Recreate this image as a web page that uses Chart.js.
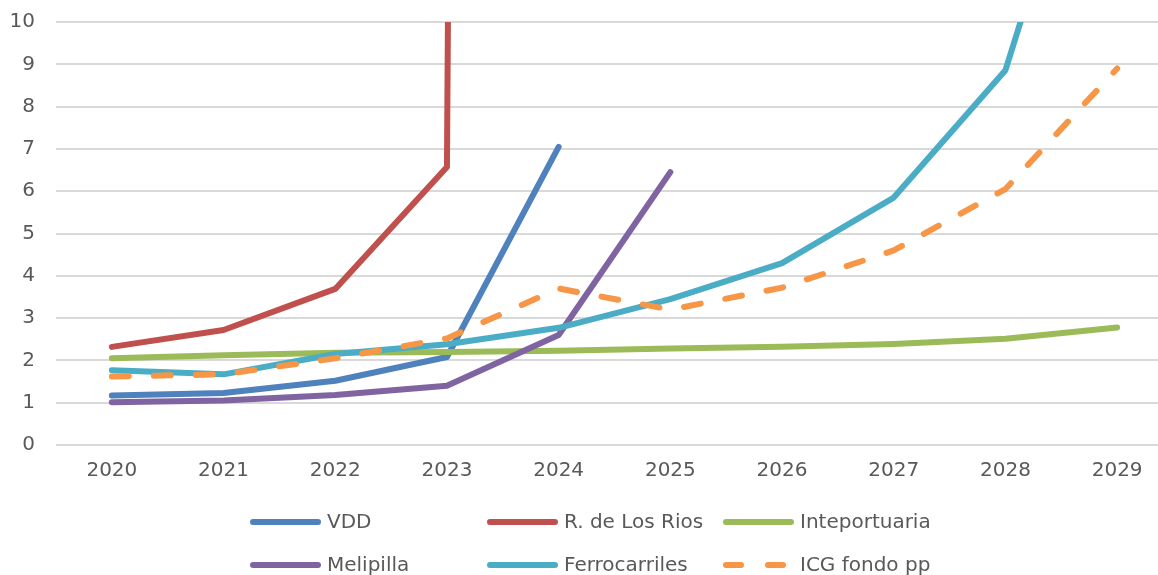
<!DOCTYPE html>
<html lang="es">
<head>
<meta charset="UTF-8">
<title>Indices</title>
<script src="https://cdn.jsdelivr.net/npm/chart.js"></script>
<style>
    html, body {
        margin: 0;
        padding: 0;
        background: #ffffff;
        overflow: hidden;
    }
    .wrap {
        position: relative;
        width: 1173px;
        height: 575px;
    }
</style>
</head>
<body>
<div class="wrap">
    <canvas id="chart"></canvas>
</div>
<script>
    const years = ['2020', '2021', '2022', '2023', '2024', '2025', '2026', '2027', '2028', '2029'];
    const yTicks = [0, 1, 2, 3, 4, 5, 6, 7, 8, 9, 10];

    const vdd = [1.17, 1.23, 1.52, 2.08, 7.05, null, null, null, null, null];
    const losRios = [2.32, 2.72, 3.69, 6.57, 400, null, null, null, null, null];
    const inteportuaria = [2.05, 2.12, 2.18, 2.2, 2.23, 2.28, 2.32, 2.39, 2.51, 2.78];
    const melipilla = [1.01, 1.05, 1.18, 1.4, 2.6, 6.45, null, null, null, null];
    const ferrocarriles = [1.77, 1.67, 2.15, 2.38, 2.77, 3.45, 4.3, 5.85, 8.86, 17.3];
    const icg = [1.62, 1.67, 2.05, 2.52, 3.7, 3.2, 3.72, 4.6, 6.05, 8.9];

    const seriesNames = ['VDD', 'R. de Los Rios', 'Inteportuaria', 'Melipilla', 'Ferrocarriles', 'ICG fondo pp'];
    const seriesData = [vdd, losRios, inteportuaria, melipilla, ferrocarriles, icg];
    const seriesColors = ['#4f81bd', '#c0504d', '#9bbb59', '#8064a2', '#4bacc6', '#f79646'];

    const textColor = '#595959';
    const fontFamily = '"DejaVu Sans", Verdana, sans-serif';

    const datasets = seriesNames.map((name, i) => ({
        label: name,
        data: seriesData[i],
        borderColor: seriesColors[i],
        backgroundColor: seriesColors[i],
        borderWidth: 6,
        borderDash: name === 'ICG fondo pp' ? [17, 25] : [],
        borderCapStyle: 'round',
        borderJoinStyle: 'round',
        pointRadius: 0,
        tension: 0,
        fill: false,
        clip: 0,
        order: seriesNames.length - i
    }));

    // legend drawn as in the original: 3 columns x 2 rows below the axis
    const gridLegend = {
        id: 'gridLegend',
        afterDraw(chart) {
            const ctx = chart.ctx;
            const cols = [250, 487, 723];
            const rows = [522, 565];
            ctx.save();
            ctx.font = '20px ' + fontFamily;
            ctx.textBaseline = 'middle';
            chart.data.datasets.forEach((ds, i) => {
                const x = cols[i % 3];
                const y = rows[Math.floor(i / 3)];
                ctx.strokeStyle = ds.borderColor;
                ctx.lineWidth = 6;
                ctx.lineCap = 'round';
                ctx.setLineDash(ds.borderDash.length ? [15, 27] : []);
                ctx.beginPath();
                ctx.moveTo(x + 3, y);
                ctx.lineTo(x + 68, y);
                ctx.stroke();
                ctx.setLineDash([]);
                ctx.fillStyle = textColor;
                ctx.fillText(ds.label, x + 77, y + 1);
            });
            ctx.restore();
        }
    };

    new Chart(document.getElementById('chart'), {
        type: 'line',
        data: { labels: years, datasets: datasets },
        plugins: [gridLegend],
        options: {
            responsive: true,
            maintainAspectRatio: false,
            animation: false,
            layout: { padding: { top: 22, right: 0, bottom: 0, left: 0 } },
            plugins: {
                legend: { display: false },
                tooltip: { enabled: false }
            },
            scales: {
                x: {
                    offset: true,
                    grid: { display: false, drawTicks: false },
                    border: { display: false },
                    ticks: {
                        color: textColor,
                        font: { family: fontFamily, size: 20 },
                        padding: 14,
                        maxRotation: 0
                    },
                    afterFit(axis) { axis.height = 130; }
                },
                y: {
                    min: 0,
                    max: 10,
                    grid: { color: '#d9d9d9', lineWidth: 2, drawTicks: false },
                    border: { display: false },
                    afterBuildTicks(axis) { axis.ticks = yTicks.map(v => ({ value: v })); },
                    ticks: {
                        color: textColor,
                        font: { family: fontFamily, size: 20 },
                        padding: 21
                    },
                    afterFit(axis) {
                        axis.width = 56;
                        axis.paddingTop = 0;
                        axis.paddingBottom = 0;
                    }
                }
            }
        }
    });
</script>
</body>
</html>
